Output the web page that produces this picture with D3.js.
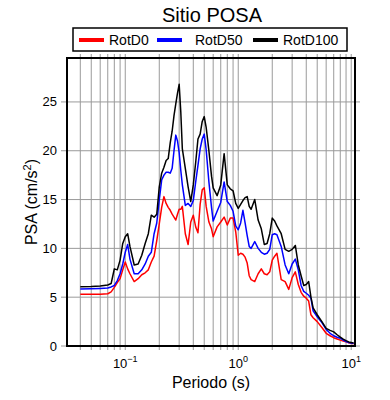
<!DOCTYPE html>
<html>
<head>
<meta charset="utf-8">
<script src="https://cdn.jsdelivr.net/npm/d3@7"></script>
<style>
  body { margin: 0; background: #fff; }
  svg { font-family: "Liberation Sans", Arial, sans-serif; }
</style>
</head>
<body>
<svg id="chart" width="390" height="400"></svg>
<script>
// periodo (s)
const periods = [0.04, 0.05, 0.06, 0.07, 0.075, 0.08, 0.085, 0.09, 0.095, 0.1,
  0.105, 0.11, 0.12, 0.13, 0.14, 0.15, 0.16, 0.17, 0.18, 0.19,
  0.2, 0.21, 0.22, 0.23, 0.24, 0.25, 0.26, 0.27, 0.28, 0.29,
  0.3, 0.31, 0.32, 0.34, 0.36, 0.38, 0.4, 0.42, 0.44, 0.46,
  0.48, 0.5, 0.52, 0.55, 0.58, 0.6, 0.65, 0.7, 0.75, 0.8,
  0.85, 0.9, 0.95, 1.0, 1.05, 1.1, 1.15, 1.2, 1.25, 1.3,
  1.4, 1.5, 1.6, 1.7, 1.8, 1.9, 2.0, 2.1, 2.2, 2.4,
  2.6, 2.8, 3.0, 3.2, 3.4, 3.6, 3.8, 4.0, 4.2, 4.4,
  4.6, 5.0, 5.5, 6.0, 6.5, 7.0, 7.5, 8.0, 8.5, 9.0,
  9.5, 10.0, 10.5];

const rotD0 = [5.29, 5.29, 5.3, 5.35, 5.55, 6.0, 6.5, 6.9, 7.8, 8.6,
  7.9, 7.4, 6.6, 6.9, 7.3, 7.5, 7.8, 8.6, 9.2, 10.8,
  12.5, 14.2, 15.3, 14.6, 14.2, 13.9, 13.5, 13.2, 12.9, 13.5,
  14.0, 14.0, 14.3, 11.5, 10.4, 12.7, 13.4, 12.2, 11.6, 14.5,
  16.0, 16.2, 14.3, 12.7, 12.0, 11.2, 12.2, 12.7, 13.2, 12.4,
  13.1, 13.1, 11.7, 9.3, 9.5, 9.4, 9.1, 8.5, 7.2, 6.8,
  6.6, 7.4, 7.9, 7.4, 7.3, 7.6, 8.8, 9.2, 9.5, 6.8,
  6.6, 5.8, 7.0, 7.6, 6.3, 5.5, 5.1, 4.9, 4.6, 3.2,
  2.9, 2.5, 1.9, 1.3, 1.05, 0.85, 0.72, 0.6, 0.5, 0.42,
  0.34, 0.28, 0.24];

const rotD50 = [5.83, 5.86, 5.9, 5.95, 6.05, 6.2, 6.7, 7.4, 8.4, 9.6,
  10.4, 8.9, 7.4, 7.4, 7.8, 8.4, 9.2, 9.6, 11.5, 12.6,
  15.0, 17.0, 17.5, 17.8, 17.8, 17.7, 18.2, 20.0, 21.6, 21.0,
  19.8, 18.0, 16.5, 14.4, 14.6, 14.3, 14.9, 16.8, 18.5, 20.2,
  21.2, 21.7, 20.1, 16.8, 14.2, 12.8, 13.8, 14.7, 16.8, 14.8,
  14.4, 13.8, 12.3, 11.9, 12.6, 13.9, 12.6, 11.3, 10.2, 10.0,
  10.7, 10.0, 9.6, 9.4, 9.5, 9.9, 11.4, 11.5, 11.4, 10.2,
  8.3, 7.4, 8.4, 8.9, 7.8, 6.2, 5.6, 5.4, 5.2, 4.9,
  3.6, 3.0, 2.4, 1.7, 1.3, 1.05, 0.9, 0.8, 0.6, 0.46,
  0.36, 0.3, 0.25];

const rotD100 = [6.07, 6.1, 6.15, 6.25, 6.4, 7.9, 7.8, 8.8, 10.5, 11.2,
  11.5, 10.2, 8.3, 8.4, 9.3, 10.5, 11.5, 13.4, 13.2, 13.5,
  16.3, 17.7, 18.3, 19.0, 19.2, 20.8, 22.0, 23.6, 24.8, 25.9,
  26.8, 24.0, 20.2, 18.2, 16.3, 14.8, 16.5, 18.8, 21.2, 21.7,
  23.0, 23.5, 22.4, 20.0, 17.4, 16.2, 15.4, 16.5, 19.7, 16.5,
  16.1, 15.9, 14.6, 14.1, 14.5, 14.9, 15.2, 15.3, 14.3, 14.0,
  15.0, 12.9, 12.0, 10.4, 10.5, 11.5, 13.1, 12.8, 12.3, 11.5,
  9.9, 9.7, 9.9, 10.3, 8.3, 7.2, 6.2, 6.3, 6.6, 5.0,
  3.9, 3.2, 2.5, 1.8, 1.6, 1.45, 1.15, 0.9, 0.7, 0.55,
  0.42, 0.36, 0.3];

const seriesNames = ['RotD0', 'RotD50', 'RotD100'];
const seriesColors = ['#ff0000', '#0000ff', '#000000'];
const yTicks = [0, 5, 10, 15, 20, 25];
const xLabelTicks = [0.1, 1, 10];

const plot = { left: 67, right: 355, top: 58, bottom: 346 };

const svg = d3.select('#chart');

const x = d3.scaleLog().domain([0.0305, 10.8]).range([plot.left, plot.right]);
const y = d3.scaleLinear().domain([0, 29.5]).range([plot.bottom, plot.top]);

// grid (vertical at every log tick, sticking out a bit like ticks)
const xGrid = x.ticks().filter(t => t >= x.domain()[0] && t <= x.domain()[1]);
svg.append('g')
  .selectAll('line')
  .data(xGrid)
  .enter()
  .append('line')
  .attr('x1', d => x(d))
  .attr('x2', d => x(d))
  .attr('y1', plot.top - 4)
  .attr('y2', plot.bottom + 4)
  .attr('stroke', '#9a9a9a')
  .attr('stroke-width', 1);

svg.append('g')
  .selectAll('line')
  .data(yTicks)
  .enter()
  .append('line')
  .attr('x1', plot.left - 6)
  .attr('x2', plot.right + 5)
  .attr('y1', d => y(d))
  .attr('y2', d => y(d))
  .attr('stroke', '#9a9a9a')
  .attr('stroke-width', 1);

// curves
const allSeries = [rotD0, rotD50, rotD100];
const line = d3.line()
  .x(d => x(d[0]))
  .y(d => y(d[1]));

allSeries.forEach((vals, i) => {
  svg.append('path')
    .datum(periods.map((p, j) => [p, vals[j]]))
    .attr('fill', 'none')
    .attr('stroke', seriesColors[i])
    .attr('stroke-width', 1.5)
    .attr('stroke-linejoin', 'round')
    .attr('d', line);
});

// frame
svg.append('rect')
  .attr('x', plot.left)
  .attr('y', plot.top)
  .attr('width', plot.right - plot.left)
  .attr('height', plot.bottom - plot.top)
  .attr('fill', 'none')
  .attr('stroke', '#000')
  .attr('stroke-width', 2);

// y tick labels
svg.append('g')
  .selectAll('text')
  .data(yTicks)
  .enter()
  .append('text')
  .attr('x', plot.left - 10)
  .attr('y', d => y(d))
  .attr('dy', '0.35em')
  .attr('text-anchor', 'end')
  .attr('font-size', 13)
  .text(d => d);

// x tick labels 10^n
const xl = svg.append('g')
  .selectAll('text')
  .data(xLabelTicks)
  .enter()
  .append('text')
  .attr('x', d => x(d))
  .attr('y', plot.bottom + 22)
  .attr('text-anchor', 'middle')
  .attr('font-size', 13);
xl.append('tspan').text('10');
xl.append('tspan')
  .attr('dy', -6)
  .attr('font-size', 9)
  .text(d => {
    const e = Math.round(Math.log10(d));
    return e < 0 ? '\u2212' + (-e) : e;
  });

// axis titles
svg.append('text')
  .attr('x', (plot.left + plot.right) / 2)
  .attr('y', 388)
  .attr('text-anchor', 'middle')
  .attr('font-size', 16)
  .text('Periodo (s)');

const yt = svg.append('text')
  .attr('transform', `translate(37,${(plot.top + plot.bottom) / 2}) rotate(-90)`)
  .attr('text-anchor', 'middle')
  .attr('font-size', 16);
yt.append('tspan').text('PSA (cm/s');
yt.append('tspan').attr('dy', -6).attr('font-size', 11).text('2');
yt.append('tspan').attr('dy', 6).text(')');

// title
svg.append('text')
  .attr('x', 212)
  .attr('y', 22)
  .attr('text-anchor', 'middle')
  .attr('font-size', 20)
  .text('Sitio POSA');

// legend
svg.append('rect')
  .attr('x', 73)
  .attr('y', 28)
  .attr('width', 274)
  .attr('height', 23)
  .attr('fill', '#fff')
  .attr('stroke', '#000')
  .attr('stroke-width', 1.5);

const legendX = [79, 157, 253];
const legend = svg.append('g')
  .selectAll('g')
  .data(seriesNames)
  .enter()
  .append('g')
  .attr('transform', (d, i) => `translate(${legendX[i]},40)`);

legend.append('line')
  .attr('x1', 0)
  .attr('x2', 25)
  .attr('stroke', (d, i) => seriesColors[i])
  .attr('stroke-width', 4);

legend.append('text')
  .attr('x', (d, i) => (i === 1 ? 38 : 30))
  .attr('dy', '0.35em')
  .attr('font-size', 14)
  .text(d => d);
</script>
</body>
</html>
